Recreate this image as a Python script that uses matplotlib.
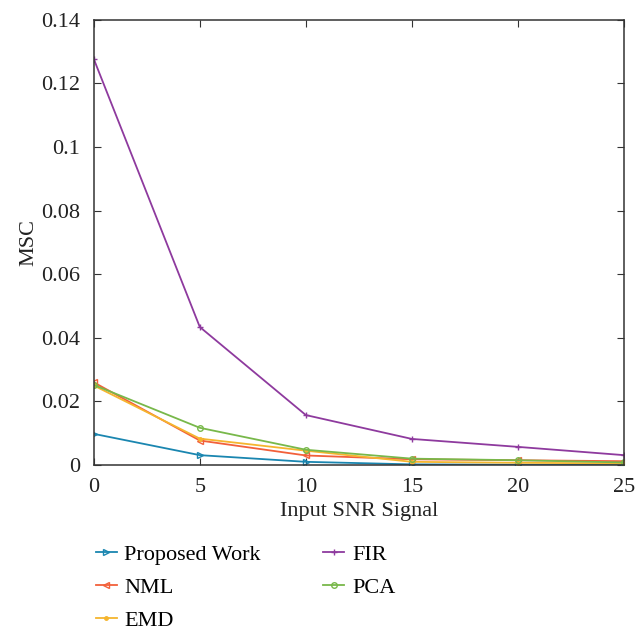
import matplotlib.pyplot as plt

snr = [0, 5, 10, 15, 20, 25]
proposed = [0.0098, 0.0031, 0.0010, 0.0002, 0.0001, 0.0000]
nml = [0.0260, 0.0077, 0.0030, 0.0018, 0.0015, 0.0012]
emd = [0.0250, 0.0083, 0.0045, 0.0010, 0.0007, 0.0005]
fir = [0.1277, 0.0434, 0.0157, 0.0082, 0.0057, 0.0031]
pca = [0.0252, 0.0117, 0.0048, 0.0020, 0.0015, 0.0008]

plt.rcParams['font.family'] = ['Liberation Serif', 'DejaVu Serif']

fig = plt.figure(figsize=(6.42, 6.37), dpi=100)
ax = fig.add_axes([0.146, 0.270, 0.826, 0.699])

l1, = ax.plot(snr, proposed, color='#1a86b0', marker='>', ms=4.5, mfc='none', lw=1.3, label='Proposed Work')
l2, = ax.plot(snr, nml, color='#f2603a', marker='<', ms=4.5, mfc='none', lw=1.3, label='NML')
l3, = ax.plot(snr, emd, color='#f5b52e', marker='.', ms=5, lw=1.3, label='EMD')
l4, = ax.plot(snr, fir, color='#8e3a9e', marker='+', ms=4.5, lw=1.3, label='FIR')
l5, = ax.plot(snr, pca, color='#78b84a', marker='o', ms=4, mfc='none', lw=1.3, label='PCA')

ax.set_xlim(0, 25)
ax.set_ylim(0, 0.14)
ax.set_xticks([0, 5, 10, 15, 20, 25])
ax.set_yticks([0, 0.02, 0.04, 0.06, 0.08, 0.1, 0.12, 0.14])
ax.set_yticklabels(['0', '0.02', '0.04', '0.06', '0.08', '0.1', '0.12', '0.14'])
ax.tick_params(direction='in', top=True, right=True, labelsize=16, length=5,
               color='#333333', labelcolor='#222222')
ax.tick_params(axis='y', pad=10)
ax.tick_params(axis='x', pad=9)
for s in ax.spines.values():
    s.set_color('#333333')
    s.set_linewidth(1.1)
ax.set_xlabel('Input SNR Signal', fontsize=16, color='#222222', labelpad=4)
ax.set_ylabel('MSC', fontsize=16, color='#222222', labelpad=2)

fig.legend(handles=[l1, l2, l3, l4, l5], loc='upper left', bbox_to_anchor=(0.142, 0.152),
           ncol=2, frameon=False, fontsize=16, handlelength=0.95, handletextpad=0.35,
           columnspacing=2.8, labelspacing=0.55, borderaxespad=0, borderpad=0.2)

fig.savefig('out.png', dpi=100)
